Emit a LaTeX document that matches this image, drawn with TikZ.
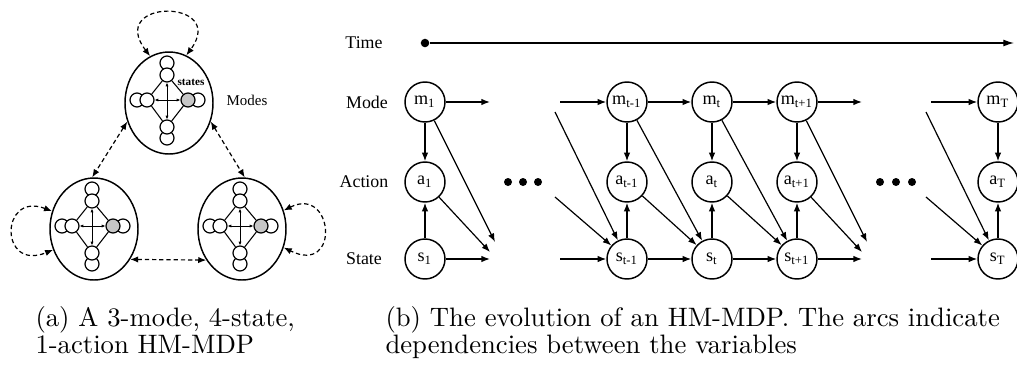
\documentclass[tikz,border=0pt]{standalone}
\usepackage{fontspec}
\newfontfamily\timesf{Liberation Serif}
\usetikzlibrary{arrows.meta}
\usetikzlibrary{shapes.geometric}

\tikzset{
  var/.style={circle, draw, line width=0.55pt, minimum size=15pt, inner sep=0pt,
    font=\timesf\fontsize{6.8}{7}\selectfont},
  dep/.style={line width=0.45pt, -{Latex[length=3.2pt,width=2.4pt]}},
  rowlbl/.style={font=\timesf\fontsize{6.7}{8}\selectfont},
  mode/.style={ellipse, draw, line width=0.55pt, minimum width=33pt,
    minimum height=38.25pt, inner sep=0pt},
  st/.style={circle, draw, fill=white, line width=0.45pt, minimum size=5.25pt, inner sep=0pt},
  inarc/.style={line width=0.35pt, {Latex[length=1.4pt,width=1.2pt]}-{Latex[length=1.4pt,width=1.2pt]}},
  dasharc/.style={line width=0.45pt, dash pattern=on 1.6pt off 1.1pt,
    {Latex[length=3pt,width=2.4pt]}-{Latex[length=3pt,width=2.4pt]}},
  captext/.style={anchor=base west, inner sep=0pt}
}

\begin{document}
\begin{tikzpicture}[x=0.375pt, y=-0.375pt]
\useasboundingbox (0,0) rectangle (1017,369);

% (a) modes and their states
\node[mode] (mtop) at (169,103) {};
\node[mode] (mleft) at (94,229) {};
\node[mode] (mright) at (242,229) {};
\foreach \c in {mtop, mleft, mright} {
  \begin{scope}[shift={(\c.center)}]
    \draw[line width=0.45pt] (-2,-40) circle [radius=7];
    \draw[line width=0.45pt] (-32,-3) circle [radius=7];
    \draw[line width=0.45pt] (29,-3) circle [radius=7];
    \draw[line width=0.45pt] (-2,35) circle [radius=7];
    \node[st] (\c-n) at (-2,-28) {};
    \node[st] (\c-w) at (-22,-3) {};
    \node[st, fill=gray!45] (\c-e) at (19,-3) {};
    \node[st] (\c-s) at (-2,24) {};
    \draw[line width=0.4pt] (\c-n) -- (\c-w);
    \draw[line width=0.4pt] (\c-n) -- (\c-e);
    \draw[line width=0.4pt] (\c-w) -- (\c-s);
    \draw[line width=0.4pt] (\c-e) -- (\c-s);
    \draw[inarc] (\c-n) -- (\c-s);
    \draw[inarc] (\c-w) -- (\c-e);
  \end{scope}
}
\node[font=\timesf\bfseries\fontsize{4.2}{5}\selectfont] (lstates) at (191,82) {states};
\node[font=\timesf\fontsize{5.6}{6}\selectfont] (lmodes) at (247,100) {Modes};

\draw[dasharc] (mtop.204) -- (mleft.92);
\draw[dasharc] (mtop.336) -- (mright.87);
\draw[dasharc] (mleft.-40) -- (mright.221);
\draw[dasharc] (mtop.112) .. controls +(-44,-58) and +(42,-57) .. (mtop.70);
\draw[dasharc] (mleft.157) .. controls +(-52,-20) and +(-54,22) .. (mleft.207);
\draw[dasharc] (mright.24) .. controls +(50,-25) and +(57,28) .. (mright.-24);

% (b) the HM-MDP over time
\node[rowlbl] (ltime) at (364,43) {Time};
\node[rowlbl] (lmode) at (367,102) {Mode};
\node[rowlbl] (laction) at (364,182) {Action};
\node[rowlbl] (lstate) at (364,259) {State};

\node[circle, fill, inner sep=0pt, minimum size=3.2pt] (tstart) at (425,43) {};
\coordinate (tend) at (1014,43);
\draw[line width=0.45pt, -{Latex[length=4pt,width=2.6pt]}] (tstart) -- (tend);

\foreach \x/\n/\s in {425/1/1, 627/tm/t-1, 712/t/t, 797/tp/t+1, 998/T/T} {
  \node[var] (m\n) at (\x,102) {m\textsubscript{\s}};
  \node[var] (a\n) at (\x,182) {a\textsubscript{\s}};
  \node[var] (s\n) at (\x,259) {s\textsubscript{\s}};
  \draw[dep] (m\n) -- (a\n);
  \draw[dep] (s\n) -- (a\n);
}
\foreach \i/\j in {tm/t, t/tp} {
  \draw[dep] (m\i) -- (m\j);
  \draw[dep] (s\i) -- (s\j);
  \draw[dep] (m\i) -- (s\j);
  \draw[dep] (a\i) -- (s\j);
}
% open ends
\foreach \n/\x in {1/425, tp/797} {
  \coordinate (mo\n) at (\x+65,102);
  \coordinate (so\n) at (\x+65,259);
  \coordinate (do\n) at (\x+70,242);
  \coordinate (ao\n) at (\x+65,252);
  \draw[dep] (m\n) -- (mo\n);
  \draw[dep] (s\n) -- (so\n);
  \draw[dep] (m\n) -- (do\n);
  \draw[dep] (a\n) -- (ao\n);
}
\foreach \n/\x in {tm/627, T/998} {
  \coordinate (mi\n) at (\x-67,102);
  \coordinate (si\n) at (\x-67,259);
  \coordinate (di\n) at (\x-72,112);
  \coordinate (ai\n) at (\x-72,197);
  \draw[dep] (mi\n) -- (m\n);
  \draw[dep] (si\n) -- (s\n);
  \draw[dep] (di\n) -- (s\n);
  \draw[dep] (ai\n) -- (s\n);
}
\foreach \x in {508,523,538,880,896,912}
  \fill (\x,182) circle [radius=4];

% captions
\node[captext] (capa1) at (35,326) {(a) A 3-mode, 4-state,};
\node[captext] (capa2) at (35,353) {1-action HM-MDP};
\node[captext] (capb1) at (385,326) {(b) The evolution of an HM-MDP. The arcs indicate};
\node[captext] (capb2) at (385,353) {dependencies between the variables};
\end{tikzpicture}
\end{document}
